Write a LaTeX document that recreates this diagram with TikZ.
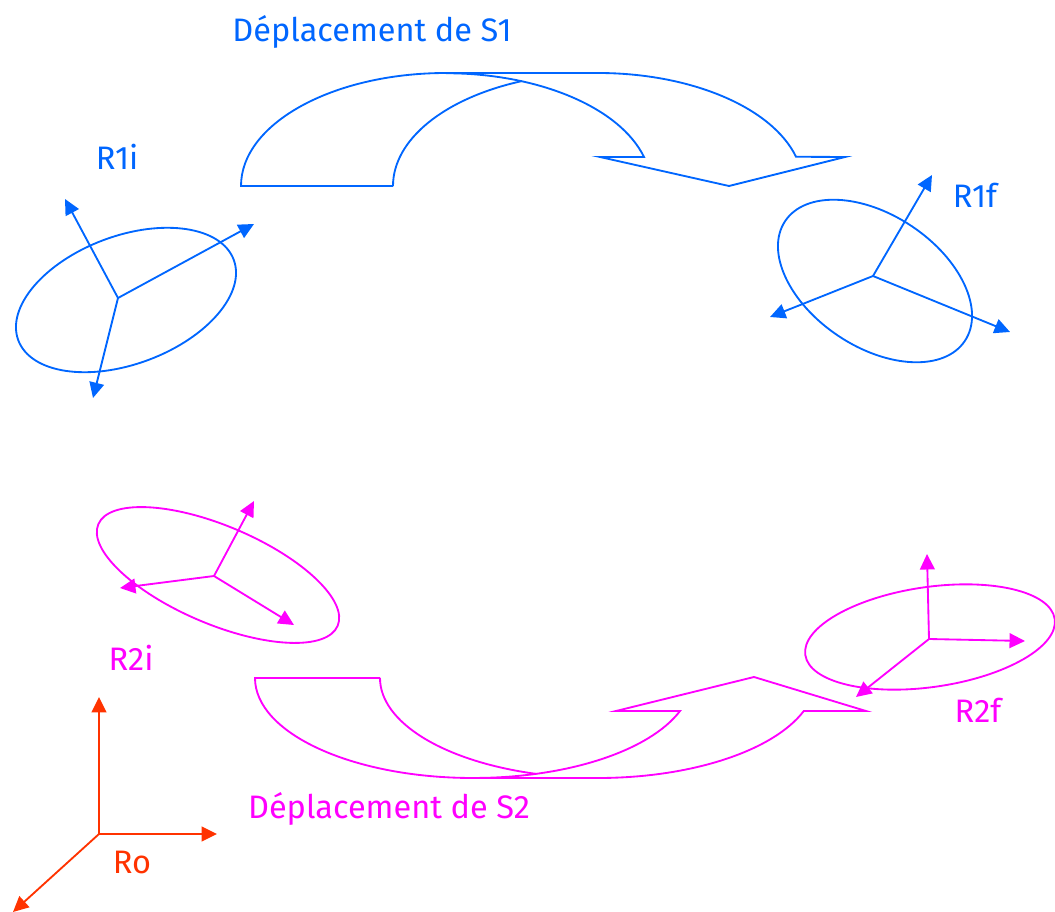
\documentclass[tikz,border=0pt]{standalone}
\usepackage{fontspec}
\setmainfont{Fira Sans}
\usetikzlibrary{arrows.meta}

\definecolor{sblue}{RGB}{0,102,255}
\definecolor{smagenta}{RGB}{255,0,255}
\definecolor{sorange}{RGB}{255,51,0}

\begin{document}
\begin{tikzpicture}[
  x=0.02cm, y=-0.02cm,
  font=\fontsize{18.5}{21}\selectfont,
  >={Triangle[length=8.8pt, width=8.4pt]},
  axis/.style={->, line width=1.05pt, draw=#1, fill=#1},
  body/.style={line width=1.05pt, draw=#1},
  move/.style={line width=1.05pt, draw=#1, line join=miter},
  lbl/.style={text=#1, inner sep=1pt},
]
\useasboundingbox (0,0) rectangle (1055,912);

% --- Solide S1 : repere initial R1i ---
\coordinate (o1i) at (118,298);
\coordinate (x1i) at (254,224);
\coordinate (y1i) at (65,199);
\coordinate (z1i) at (93,398);
\draw[body=sblue, rotate around={20.5:(126,300)}]
  (126,300) ellipse [x radius=115, y radius=64];
\draw[axis=sblue] (o1i) -- (x1i);
\draw[axis=sblue] (o1i) -- (y1i);
\draw[axis=sblue] (o1i) -- (z1i);
\node[lbl=sblue] (r1i) at (117,157) {R1i};

% --- Solide S1 : repere final R1f ---
\coordinate (o1f) at (873,276);
\coordinate (x1f) at (1010,332);
\coordinate (y1f) at (932,175);
\coordinate (z1f) at (770,317);
\draw[body=sblue, rotate around={-33.7:(875,281)}]
  (875,281) ellipse [x radius=108, y radius=66];
\draw[axis=sblue] (o1f) -- (x1f);
\draw[axis=sblue] (o1f) -- (y1f);
\draw[axis=sblue] (o1f) -- (z1f);
\node[lbl=sblue] (r1f) at (975,195) {R1f};

% --- Deplacement de S1 (fleche courbe) ---
\draw[move=sblue] (393,186) -- (241,186)
  arc[start angle=180, end angle=270, x radius=205, y radius=113]
  -- (598,73)
  arc[start angle=270, end angle=345, x radius=205, y radius=113]
  -- (845,157) -- (729,186) -- (600,157) -- (644,157)
  arc[start angle=345, end angle=270, x radius=205, y radius=113];
\draw[move=sblue] (393,186)
  arc[start angle=180, end angle=248.2, x radius=205, y radius=113];
\node[lbl=sblue] (d1) at (372,32) {Déplacement de S1};

% --- Solide S2 : repere initial R2i ---
\coordinate (o2i) at (214,576);
\coordinate (x2i) at (294,625);
\coordinate (y2i) at (254,501);
\coordinate (z2i) at (120,588);
\draw[body=smagenta, rotate around={-23:(218,575)}]
  (218,575) ellipse [x radius=130, y radius=49];
\draw[axis=smagenta] (o2i) -- (x2i);
\draw[axis=smagenta] (o2i) -- (y2i);
\draw[axis=smagenta] (o2i) -- (z2i);
\node[lbl=smagenta] (r2i) at (131,658) {R2i};

% --- Solide S2 : repere final R2f ---
\coordinate (o2f) at (929,639);
\coordinate (x2f) at (1025,641);
\coordinate (y2f) at (927,554);
\coordinate (z2f) at (856,697);
\draw[body=smagenta, rotate around={8.2:(930,637)}]
  (930,637) ellipse [x radius=126, y radius=50];
\draw[axis=smagenta] (o2f) -- (x2f);
\draw[axis=smagenta] (o2f) -- (y2f);
\draw[axis=smagenta] (o2f) -- (z2f);
\node[lbl=smagenta] (r2f) at (978,710) {R2f};

% --- Deplacement de S2 (fleche courbe) ---
\draw[move=smagenta] (380,678) -- (255,678)
  arc[start angle=180, end angle=90, x radius=218, y radius=100]
  -- (598,778)
  arc[start angle=90, end angle=19.3, x radius=218, y radius=100]
  -- (866,711) -- (754,677) -- (616,711) -- (680,711)
  arc[start angle=19.3, end angle=90, x radius=218, y radius=100];
\draw[move=smagenta] (380,678)
  arc[start angle=180, end angle=106.5, x radius=218, y radius=100];
\node[lbl=smagenta] (d2) at (389,809) {Déplacement de S2};

% --- Repere fixe Ro ---
\coordinate (oo) at (99,834);
\coordinate (xo) at (217,834);
\coordinate (yo) at (99,697);
\coordinate (zo) at (13,912);
\draw[axis=sorange] (oo) -- (xo);
\draw[axis=sorange] (oo) -- (yo);
\draw[axis=sorange] (oo) -- (zo);
\node[lbl=sorange] (ro) at (132,862) {Ro};

\end{tikzpicture}
\end{document}
